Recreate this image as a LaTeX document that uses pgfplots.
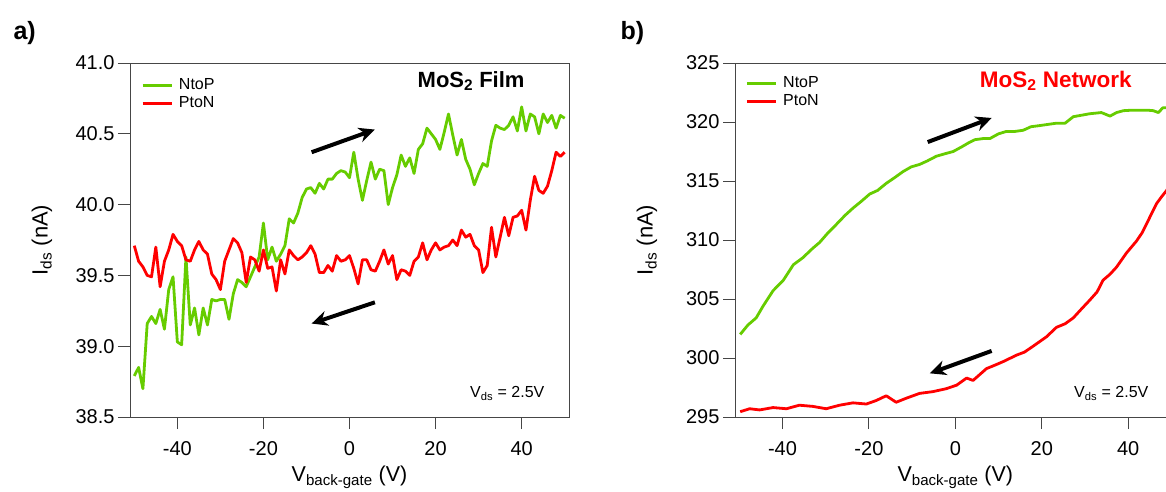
\documentclass[border=0pt]{standalone}
\usepackage{pgfplots}
\pgfplotsset{compat=1.18}
\usepackage{fontspec}
\setmainfont{Liberation Sans}
\usetikzlibrary{arrows.meta}
\definecolor{cgreen}{RGB}{102,204,0}
\definecolor{cred}{RGB}{255,0,0}
\definecolor{axgray}{RGB}{70,70,70}
\tikzset{arr/.style={line width=4pt, -{Stealth[length=16pt,width=15pt]}}}
\pgfplotsset{
 mystyle/.style={
  scale only axis, height=354pt,
  xmin=-51, xmax=51, xtick={-40,-20,0,20,40},
  axis line style={axgray, line width=1pt},
  tick style={axgray, line width=1pt},
  tick align=outside, major tick length=12pt,
  xtick pos=bottom, ytick pos=left,
  /pgf/number format/assume math mode=true,
  tick label style={font=\fontsize{20}{22}\selectfont},
  xticklabel style={anchor=base, yshift=-26pt},
  yticklabel style={anchor=east},
  xlabel={V\textsubscript{back-gate} (V)},
  ylabel={I\textsubscript{ds} (nA)},
  every axis x label/.style={at={(axis description cs:0.5,0)}, anchor=base, yshift=-64.5pt, font=\fontsize{21.5}{24}\selectfont},
  every axis y label/.style={at={(axis description cs:0,0.5)}, rotate=90, anchor=center, yshift=88pt, font=\fontsize{22}{24}\selectfont},
  legend style={at={(0,1)}, anchor=north west, draw=none, fill=none, inner sep=0pt, row sep=0pt, column sep=4pt,
    font=\fontsize{16}{18}\selectfont, nodes={inner sep=1.75pt, text height=11.5pt, text depth=3pt}},
  legend cell align=left,
  legend image code/.code={\draw[#1, line width=3pt] (0pt,0pt) -- (29pt,0pt);},
 },
}
\begin{document}
\begin{tikzpicture}
\begin{axis}[mystyle, at={(130pt,74pt)}, anchor=south west, width=439pt,
  ymin=38.5, ymax=41.0, ytick={38.5,39.0,39.5,40.0,40.5,41.0},
  yticklabel style={/pgf/number format/.cd, fixed, fixed zerofill, precision=1},
  legend style={xshift=11pt, yshift=-13pt}]
\addplot[cgreen, line width=2.8pt, line join=round] coordinates {
(-50,38.79) (-49,38.85) (-48,38.70) (-47,39.16) (-46,39.21) (-45,39.16) (-44,39.26) (-43,39.12) (-42,39.40) (-41,39.49)
(-40,39.03) (-39,39.01) (-38,39.63) (-37,39.15) (-36,39.27) (-35,39.08) (-34,39.27) (-33,39.15) (-32,39.33) (-31,39.32)
(-30,39.33) (-29,39.33) (-28,39.19) (-27,39.37) (-26,39.47) (-25,39.45) (-24,39.42) (-23,39.49) (-22,39.56) (-21,39.63)
(-20,39.87) (-19,39.61) (-18,39.70) (-17,39.60) (-16,39.65) (-15,39.71) (-14,39.90) (-13,39.87) (-12,39.94) (-11,40.05)
(-10,40.11) (-9,40.12) (-8,40.08) (-7,40.15) (-6,40.11) (-5,40.18) (-4,40.18) (-3,40.22) (-2,40.24) (-1,40.23)
(0,40.19) (1,40.37) (2,40.18) (3,40.03) (4,40.17) (5,40.30) (6,40.18) (7,40.25) (8,40.24) (9,40.00)
(10,40.12) (11,40.21) (12,40.35) (13,40.27) (14,40.33) (15,40.22) (16,40.39) (17,40.43) (18,40.54) (19,40.50)
(20,40.46) (21,40.39) (22,40.51) (23,40.64) (24,40.49) (25,40.35) (26,40.46) (27,40.32) (28,40.25) (29,40.14)
(30,40.22) (31,40.29) (32,40.27) (33,40.45) (34,40.56) (35,40.54) (36,40.53) (37,40.56) (38,40.62) (39,40.52)
(40,40.69) (41,40.52) (42,40.64) (43,40.62) (44,40.50) (45,40.64) (46,40.58) (47,40.63) (48,40.54) (49,40.63) (50,40.61)
};
\addlegendentry{NtoP}
\addplot[cred, line width=2.8pt, line join=round] coordinates {
(-50,39.71) (-49,39.60) (-48,39.56) (-47,39.50) (-46,39.49) (-45,39.70) (-44,39.42) (-43,39.60) (-42,39.68) (-41,39.79)
(-40,39.74) (-39,39.71) (-38,39.61) (-37,39.60) (-36,39.68) (-35,39.74) (-34,39.68) (-33,39.65) (-32,39.51) (-31,39.47)
(-30,39.40) (-29,39.60) (-28,39.68) (-27,39.76) (-26,39.73) (-25,39.66) (-24,39.45) (-23,39.63) (-22,39.61) (-21,39.53)
(-20,39.68) (-19,39.55) (-18,39.56) (-17,39.39) (-16,39.61) (-15,39.51) (-14,39.68) (-13,39.64) (-12,39.61) (-11,39.63)
(-10,39.66) (-9,39.71) (-8,39.65) (-7,39.52) (-6,39.52) (-5,39.57) (-4,39.53) (-3,39.64) (-2,39.60) (-1,39.61)
(0,39.64) (1,39.55) (2,39.44) (3,39.61) (4,39.61) (5,39.54) (6,39.53) (7,39.60) (8,39.68) (9,39.58)
(10,39.64) (11,39.47) (12,39.54) (13,39.53) (14,39.50) (15,39.60) (16,39.63) (17,39.73) (18,39.61) (19,39.68)
(20,39.73) (21,39.68) (22,39.70) (23,39.71) (24,39.75) (25,39.71) (26,39.82) (27,39.77) (28,39.79) (29,39.71)
(30,39.68) (31,39.52) (32,39.57) (33,39.84) (34,39.63) (35,39.77) (36,39.91) (37,39.78) (38,39.91) (39,39.92)
(40,39.96) (41,39.82) (42,40.03) (43,40.20) (44,40.10) (45,40.08) (46,40.13) (47,40.24) (48,40.37) (49,40.34) (50,40.37)
};
\addlegendentry{PtoN}
\draw[arr] (axis cs:-8.8,40.37) -- (axis cs:5.9,40.53);
\draw[arr] (axis cs:5.9,39.31) -- (axis cs:-8.8,39.16);
\node[anchor=base, font=\bfseries\fontsize{22}{24}\selectfont] at (rel axis cs:0.777,0.932) {MoS\textsubscript{2} Film};
\node[anchor=base east, font=\fontsize{16}{18}\selectfont] at (rel axis cs:0.952,0.054) {V\textsubscript{ds} = 2.5V};
\end{axis}
\begin{axis}[mystyle, at={(735pt,74pt)}, anchor=south west, width=440.7pt,
  ymin=295, ymax=325, ytick={295,300,305,310,315,320,325},
  legend style={xshift=10.25pt, yshift=-11pt}]
\addplot[cgreen, line width=2.8pt, line join=round] coordinates {
(-49.8,302.0) (-48.0,302.8) (-46.1,303.4) (-44.5,304.4) (-42.2,305.7) (-39.8,306.6) (-37.5,307.9) (-35.3,308.5)
(-33.0,309.3) (-31.4,309.8) (-29.5,310.6) (-27.6,311.3) (-25.5,312.1) (-23.7,312.7) (-21.7,313.3) (-19.8,313.9)
(-18.0,314.2) (-16.0,314.8) (-14.0,315.3) (-12.1,315.8) (-10.2,316.2) (-8.3,316.4) (-6.5,316.7) (-4.4,317.1)
(-2.5,317.3) (-0.5,317.5) (1.5,317.9) (2.9,318.2) (4.5,318.5) (6.5,318.6) (8.0,318.6) (10.0,319.0)
(11.8,319.2) (13.8,319.2) (15.7,319.3) (17.5,319.6) (19.6,319.7) (21.5,319.8) (23.4,319.9) (25.4,319.9)
(27.3,320.45) (29.6,320.6) (31.1,320.7) (33.8,320.8) (35.8,320.5) (37.3,320.8) (38.9,320.96) (40.8,321.0)
(42.7,321.0) (44.5,321.0) (45.8,320.96) (47.0,320.8) (48.0,321.2) (48.9,321.2) (50.0,321.1)
};
\addlegendentry{NtoP}
\addplot[cred, line width=2.8pt, line join=round] coordinates {
(-49.8,295.45) (-47.6,295.7) (-45.3,295.6) (-42.2,295.8) (-39.1,295.7) (-36.1,296.0) (-33.0,295.9) (-29.9,295.7)
(-26.8,296.0) (-23.7,296.2) (-20.6,296.1) (-18.3,296.4) (-16.0,296.8) (-13.7,296.25) (-11.3,296.6) (-8.3,297.0)
(-5.2,297.15) (-2.1,297.4) (0.3,297.7) (2.6,298.3) (4.1,298.1) (7.2,299.1) (9.2,299.4) (11.1,299.7) (14.2,300.25)
(16.0,300.5) (18.0,301.0) (21.1,301.8) (23.4,302.6) (25.4,302.9) (27.3,303.4) (29.3,304.2) (31.1,304.9)
(32.8,305.6) (34.2,306.6) (35.8,307.1) (37.3,307.7) (39.6,308.9) (41.9,309.9) (43.2,310.6) (44.3,311.4)
(45.5,312.3) (46.6,313.1) (47.8,313.7) (48.9,314.2) (50.0,315.0)
};
\addlegendentry{PtoN}
\draw[arr] (axis cs:-6.4,318.3) -- (axis cs:8.4,320.34);
\draw[arr] (axis cs:8.4,300.6) -- (axis cs:-5.9,298.7);
\node[anchor=base, text=cred, font=\bfseries\fontsize{22.5}{24}\selectfont] at (rel axis cs:0.728,0.932) {MoS\textsubscript{2} Network};
\node[anchor=base east, font=\fontsize{16}{18}\selectfont] at (rel axis cs:0.946,0.054) {V\textsubscript{ds} = 2.5V};
\end{axis}
\node[anchor=base west, font=\bfseries\fontsize{25}{27}\selectfont] at (10pt,451.5pt) {a)};
\node[anchor=base west, font=\bfseries\fontsize{25}{27}\selectfont] at (617pt,451.5pt) {b)};
\pgfresetboundingbox
\useasboundingbox (0pt,0pt) rectangle (1166pt,491pt);
\end{tikzpicture}
\end{document}
